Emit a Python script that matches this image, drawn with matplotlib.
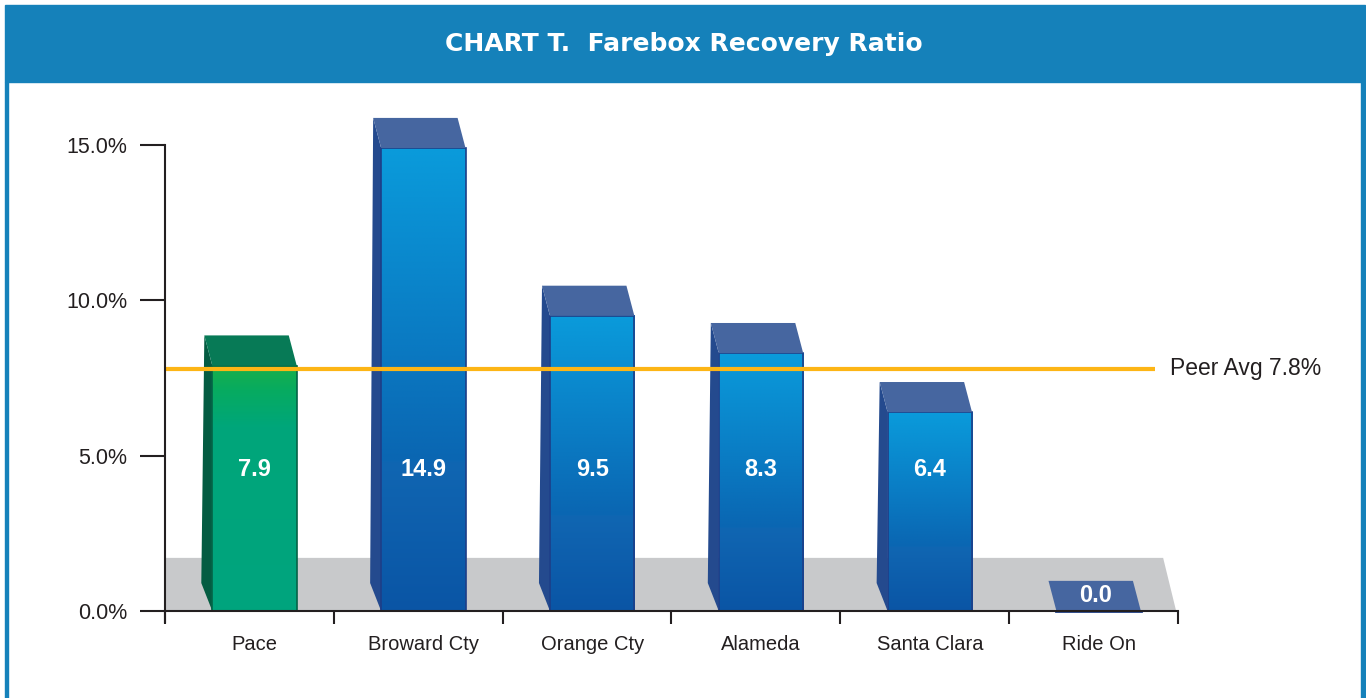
import matplotlib
matplotlib.use('Agg')
import matplotlib.pyplot as plt
import numpy as np
from matplotlib.patches import Polygon, Rectangle
from matplotlib.colors import to_rgb

categories = ['Pace', 'Broward Cty', 'Orange Cty', 'Alameda', 'Santa Clara', 'Ride On']
values = [7.9, 14.9, 9.5, 8.3, 6.4, 0.0]
peer_avg = 7.8
yticks = [0, 5, 10, 15]
ytick_labels = ['0.0%', '5.0%', '10.0%', '15.0%']
title = 'CHART T.  Farebox Recovery Ratio'
highlight = 'Pace'

plt.rcParams['font.family'] = ['Liberation Sans', 'DejaVu Sans']
INK = '#231F20'
W, H = 1366, 698


def px(x0, y0, w, h):
    # pixel box measured from the top-left corner -> figure fraction
    return [x0 / W, 1 - (y0 + h) / H, w / W, h / H]


def gradient(stops, n=256):
    # stops: list of (position from bottom, colour)
    pos = [s[0] for s in stops]
    cols = np.array([to_rgb(s[1]) for s in stops])
    t = np.linspace(0, 1, n)
    arr = np.stack([np.interp(t, pos, cols[:, k]) for k in range(3)], axis=-1)
    return arr[:, None, :]


blue_grad = gradient([(0.0, '#0A55A5'), (0.32, '#1066B2'), (0.325, '#0A66B2'),
                      (0.6, '#0A7CC4'), (1.0, '#0A9BDB')])
green_grad = gradient([(0.0, '#00A47E'), (0.75, '#00A67A'), (0.9, '#07AB60'), (1.0, '#19AF4A')])

fig = plt.figure(figsize=(W / 100, H / 100), dpi=100)

# frame and title bar
fig.patches.append(Rectangle(px(5, 5, 1360, 77)[:2], 1360 / W, 77 / H,
                             transform=fig.transFigure, color='#1581BA', zorder=0))
fig.patches.append(Rectangle((5 / W, 0), 3 / W, 1 - 82 / H, transform=fig.transFigure,
                             color='#1581BA', zorder=0))
fig.patches.append(Rectangle((1361 / W, 0), 4 / W, 1 - 82 / H, transform=fig.transFigure,
                             color='#1581BA', zorder=0))
fig.text(684 / W, 1 - 44 / H, title, ha='center', va='center', color='white',
         fontsize=18, fontweight='bold', family=['DejaVu Sans'])

# axes: y=0 at 611px, 31.07px per unit
unit = 31.07
ylo, yhi = -0.4, 16.5
top_px = 611 - yhi * unit
ax = fig.add_axes(px(165, top_px, 1013, (yhi - ylo) * unit))
ax.set_facecolor('none')

# floor
ax.add_patch(Polygon([(-0.5, 0), (5.489, 0), (5.412, 1.71), (-0.5, 1.71)],
                     closed=True, fc='#C8C9CB', ec='none', zorder=1))

dx, dy = -0.047, 0.97
half = 0.25
for i, (cat, v) in enumerate(zip(categories, values)):
    c = i + 0.03
    x0, x1 = c - half, c + half
    green = cat == highlight
    top_col = '#077A56' if green else '#4666A0'
    side_col = '#045C42' if green else '#244A8E'
    edge_col = '#046447' if green else '#1D3E88'
    if v > 0:
        ax.add_patch(Polygon([(x0, 0), (x0 - 0.065, 0.9), (x0 + dx, v + dy), (x0, v)],
                             closed=True, fc=side_col, ec='none', zorder=3))
        ax.imshow(green_grad if green else blue_grad, extent=[x0, x1, 0, v],
                  origin='lower', aspect='auto', interpolation='bilinear', zorder=3.2)
        ax.add_patch(Rectangle((x0, 0), 2 * half, v, fc='none', ec=edge_col, lw=1.2, zorder=3.4))
        ax.text(c, 4.57, f'{v:.1f}', ha='center', va='center', color='white', fontsize=17,
                fontweight='bold', family=['Liberation Sans Narrow', 'Liberation Sans'], zorder=6)
    ax.add_patch(Polygon([(x0, v), (x0 + dx, v + dy), (x1 + dx, v + dy), (x1, v)],
                         closed=True, fc=top_col, ec='none', zorder=3.5))
    if v == 0:
        ax.plot([x0, x1], [0, 0], color=edge_col, lw=2, zorder=3.6)
        ax.text(c - 0.02, 0.5, f'{v:.1f}', ha='center', va='center', color='white', fontsize=17,
                fontweight='bold', family=['Liberation Sans Narrow', 'Liberation Sans'], zorder=6)

# peer average line
ax.plot([-0.5, 5.365], [peer_avg, peer_avg], color='#FDB515', lw=3, solid_capstyle='butt', zorder=4)
ax.text(5.454, peer_avg, f'Peer Avg {peer_avg}%', ha='left', va='center', fontsize=16.5,
        color=INK, clip_on=False)

ax.set_xlim(-0.5, 5.5)
ax.set_ylim(ylo, yhi)

for s in ['top', 'right']:
    ax.spines[s].set_visible(False)
ax.spines['bottom'].set_position(('data', 0))
ax.spines['left'].set_bounds(-0.37, 15)
for s in ['bottom', 'left']:
    ax.spines[s].set_color(INK)
    ax.spines[s].set_linewidth(1.5)
    ax.spines[s].set_zorder(5)

ax.set_yticks(yticks, ytick_labels)
ax.tick_params(axis='y', length=18, width=1.5, pad=9, direction='out', labelsize=15.5,
               color=INK, labelcolor=INK)
ax.set_xticks(np.arange(-0.5, 6, 1), [''] * 7)
ax.tick_params(axis='x', which='major', length=9, width=1.5, direction='out', color=INK)
ax.set_xticks(np.arange(len(categories)) + 0.03, categories, minor=True)
ax.tick_params(axis='x', which='minor', length=0, pad=17, labelsize=14.5, labelcolor=INK)

fig.savefig('out.png', dpi=100, facecolor='white')
